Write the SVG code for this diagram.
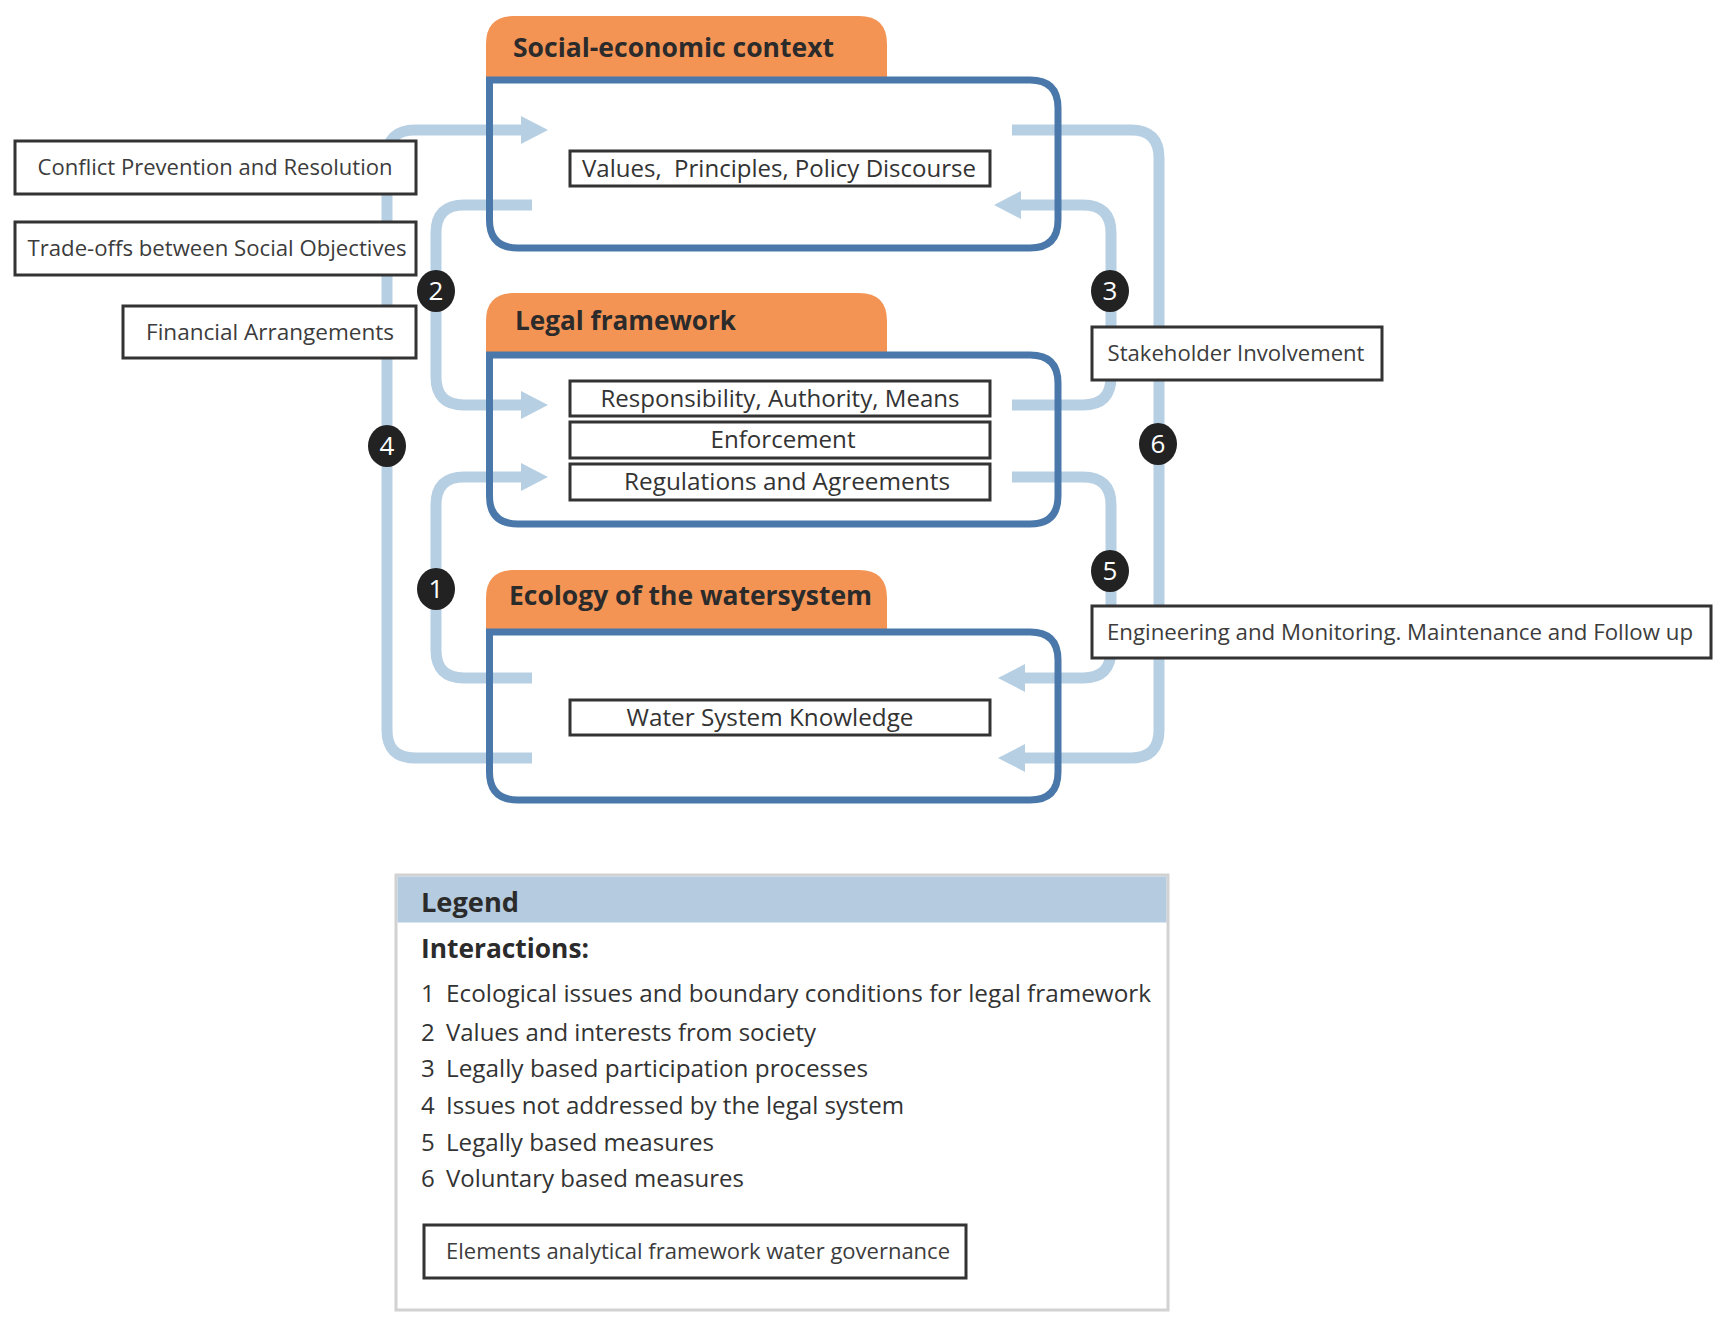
<svg xmlns="http://www.w3.org/2000/svg" width="1726" height="1327" viewBox="0 0 1726 1327">
<style>
.bg{fill:#ffffff}
.conn{fill:none;stroke:#b7cfe3;stroke-width:11;stroke-linecap:butt}
.frame{fill:none;stroke:#4a78ab;stroke-width:7}
.tab{fill:#f39455}
.title{font-family:"Open Sans","Liberation Sans",sans-serif;font-weight:bold;font-size:27px;fill:#2b2b2b}
.box{fill:#ffffff;stroke:#333333;stroke-width:3}
.t22{font-family:"Open Sans","Liberation Sans",sans-serif;font-size:22px;fill:#3c3c3c}
.t24{font-family:"Open Sans","Liberation Sans",sans-serif;font-size:24px;fill:#333333}
.badge{fill:#222222}
.num{font-family:"Open Sans","Liberation Sans",sans-serif;font-size:26px;fill:#ffffff;text-anchor:middle}
.lg-h{font-family:"Open Sans","Liberation Sans",sans-serif;font-weight:bold;font-size:26px;fill:#2b2b2b}
.lg-t{font-family:"Open Sans","Liberation Sans",sans-serif;font-size:24px;fill:#333333}
</style>
<defs>
<marker id="ah" markerUnits="userSpaceOnUse" viewBox="0 0 28 30" markerWidth="28" markerHeight="30" refX="1" refY="15" orient="auto">
<path d="M0,1 L27,15 L0,29 z" fill="#b7cfe3"/>
</marker>
</defs>
<rect class="bg" x="0" y="0" width="1726" height="1327"/>

<g id="connectors">
<path class="conn" d="M532,758 H415 Q387,758 387,730 V158 Q387,130 415,130 H522" marker-end="url(#ah)"/>
<path class="conn" d="M532,205 H464 Q436,205 436,233 V377 Q436,405 464,405 H522" marker-end="url(#ah)"/>
<path class="conn" d="M532,678 H464 Q436,678 436,650 V505 Q436,477 464,477 H522" marker-end="url(#ah)"/>
<path class="conn" d="M1012,405 H1083 Q1111,405 1111,377 V233 Q1111,205 1083,205 H1020" marker-end="url(#ah)"/>
<path class="conn" d="M1012,130 H1131 Q1159,130 1159,158 V730 Q1159,758 1131,758 H1024" marker-end="url(#ah)"/>
<path class="conn" d="M1012,477 H1083 Q1111,477 1111,505 V650 Q1111,678 1083,678 H1024" marker-end="url(#ah)"/>
</g>

<g id="social-economic-context">
<path class="tab" d="M486,77 V44 Q486,16 514,16 H859 Q887,16 887,44 V77 Z"/>
<path class="frame" d="M489.5,80 H1030 Q1058,80 1058,108 V220 Q1058,248 1030,248 H518 Q489.5,248 489.5,220 Z"/>
<text class="title" x="513" y="57" textLength="321" lengthAdjust="spacingAndGlyphs">Social-economic context</text>
</g>
<g id="values-principles">
<rect class="box" x="570" y="151" width="420" height="35"/>
<text class="t24" x="779" y="177" text-anchor="middle" textLength="394" lengthAdjust="spacingAndGlyphs" xml:space="preserve">Values,  Principles, Policy Discourse</text>
</g>

<g id="legal-framework">
<path class="tab" d="M486,352 V321 Q486,293 514,293 H859 Q887,293 887,321 V352 Z"/>
<path class="frame" d="M489.5,355 H1030 Q1058,355 1058,383 V496 Q1058,524 1030,524 H518 Q489.5,524 489.5,496 Z"/>
<text class="title" x="515" y="330" textLength="221" lengthAdjust="spacingAndGlyphs">Legal framework</text>
</g>
<g id="responsibility">
<rect class="box" x="570" y="381" width="420" height="35"/>
<text class="t24" x="780" y="407" text-anchor="middle" textLength="359" lengthAdjust="spacingAndGlyphs">Responsibility, Authority, Means</text>
</g>
<g id="enforcement">
<rect class="box" x="570" y="422" width="420" height="36"/>
<text class="t24" x="783" y="448" text-anchor="middle" textLength="145" lengthAdjust="spacingAndGlyphs">Enforcement</text>
</g>
<g id="regulations">
<rect class="box" x="570" y="464" width="420" height="36"/>
<text class="t24" x="787" y="490" text-anchor="middle" textLength="326" lengthAdjust="spacingAndGlyphs">Regulations and Agreements</text>
</g>

<g id="ecology">
<path class="tab" d="M486,629 V598 Q486,570 514,570 H859 Q887,570 887,598 V629 Z"/>
<path class="frame" d="M489.5,632 H1030 Q1058,632 1058,660 V772 Q1058,800 1030,800 H518 Q489.5,800 489.5,772 Z"/>
<text class="title" x="509" y="605" textLength="363" lengthAdjust="spacingAndGlyphs">Ecology of the watersystem</text>
</g>
<g id="water-knowledge">
<rect class="box" x="570" y="700" width="420" height="35"/>
<text class="t24" x="770" y="726" text-anchor="middle" textLength="287" lengthAdjust="spacingAndGlyphs">Water System Knowledge</text>
</g>

<g id="conflict-prevention">
<rect class="box" x="15" y="141" width="401" height="53"/>
<text class="t22" x="215" y="175" text-anchor="middle" textLength="355" lengthAdjust="spacingAndGlyphs">Conflict Prevention and Resolution</text>
</g>
<g id="trade-offs">
<rect class="box" x="15" y="222" width="401" height="53"/>
<text class="t22" x="217" y="256" text-anchor="middle" textLength="379" lengthAdjust="spacingAndGlyphs">Trade-offs between Social Objectives</text>
</g>
<g id="financial">
<rect class="box" x="123" y="306" width="293" height="52"/>
<text class="t22" x="270" y="340" text-anchor="middle" textLength="248" lengthAdjust="spacingAndGlyphs">Financial Arrangements</text>
</g>
<g id="stakeholder">
<rect class="box" x="1092" y="327" width="290" height="53"/>
<text class="t22" x="1236" y="361" text-anchor="middle" textLength="257" lengthAdjust="spacingAndGlyphs">Stakeholder Involvement</text>
</g>
<g id="engineering">
<rect class="box" x="1092" y="606" width="619" height="52"/>
<text class="t22" x="1400" y="640" text-anchor="middle" textLength="586" lengthAdjust="spacingAndGlyphs">Engineering and Monitoring. Maintenance and Follow up</text>
</g>

<g id="badge-1"><ellipse class="badge" cx="436" cy="589" rx="19" ry="21"/><text class="num" x="436" y="598">1</text></g>
<g id="badge-2"><ellipse class="badge" cx="436" cy="291" rx="19" ry="21"/><text class="num" x="436" y="300">2</text></g>
<g id="badge-3"><ellipse class="badge" cx="1110" cy="291" rx="19" ry="21"/><text class="num" x="1110" y="300">3</text></g>
<g id="badge-4"><ellipse class="badge" cx="387" cy="446" rx="19" ry="21"/><text class="num" x="387" y="455">4</text></g>
<g id="badge-5"><ellipse class="badge" cx="1110" cy="571" rx="19" ry="21"/><text class="num" x="1110" y="580">5</text></g>
<g id="badge-6"><ellipse class="badge" cx="1158" cy="444" rx="19" ry="21"/><text class="num" x="1158" y="453">6</text></g>

<g id="legend">
<rect x="396" y="875" width="772" height="435" fill="#ffffff" stroke="#d2d2d2" stroke-width="3"/>
<rect x="397.5" y="876.5" width="769" height="46" fill="#b4cbe0"/>
<text class="lg-h" x="421" y="912" textLength="98" lengthAdjust="spacingAndGlyphs">Legend</text>
<text class="lg-h" x="421" y="958" textLength="168" lengthAdjust="spacingAndGlyphs">Interactions:</text>
<text class="lg-t" x="421" y="1002">1</text>
<text class="lg-t" x="446" y="1002" textLength="705" lengthAdjust="spacingAndGlyphs">Ecological issues and boundary conditions for legal framework</text>
<text class="lg-t" x="421" y="1041">2</text>
<text class="lg-t" x="446" y="1041" textLength="370" lengthAdjust="spacingAndGlyphs">Values and interests from society</text>
<text class="lg-t" x="421" y="1077">3</text>
<text class="lg-t" x="446" y="1077" textLength="422" lengthAdjust="spacingAndGlyphs">Legally based participation processes</text>
<text class="lg-t" x="421" y="1114">4</text>
<text class="lg-t" x="446" y="1114" textLength="458" lengthAdjust="spacingAndGlyphs">Issues not addressed by the legal system</text>
<text class="lg-t" x="421" y="1151">5</text>
<text class="lg-t" x="446" y="1151" textLength="268" lengthAdjust="spacingAndGlyphs">Legally based measures</text>
<text class="lg-t" x="421" y="1187">6</text>
<text class="lg-t" x="446" y="1187" textLength="298" lengthAdjust="spacingAndGlyphs">Voluntary based measures</text>
<rect class="box" x="424" y="1225" width="542" height="53"/>
<text class="t22" x="446" y="1259" textLength="504" lengthAdjust="spacingAndGlyphs">Elements analytical framework water governance</text>
</g>
</svg>
